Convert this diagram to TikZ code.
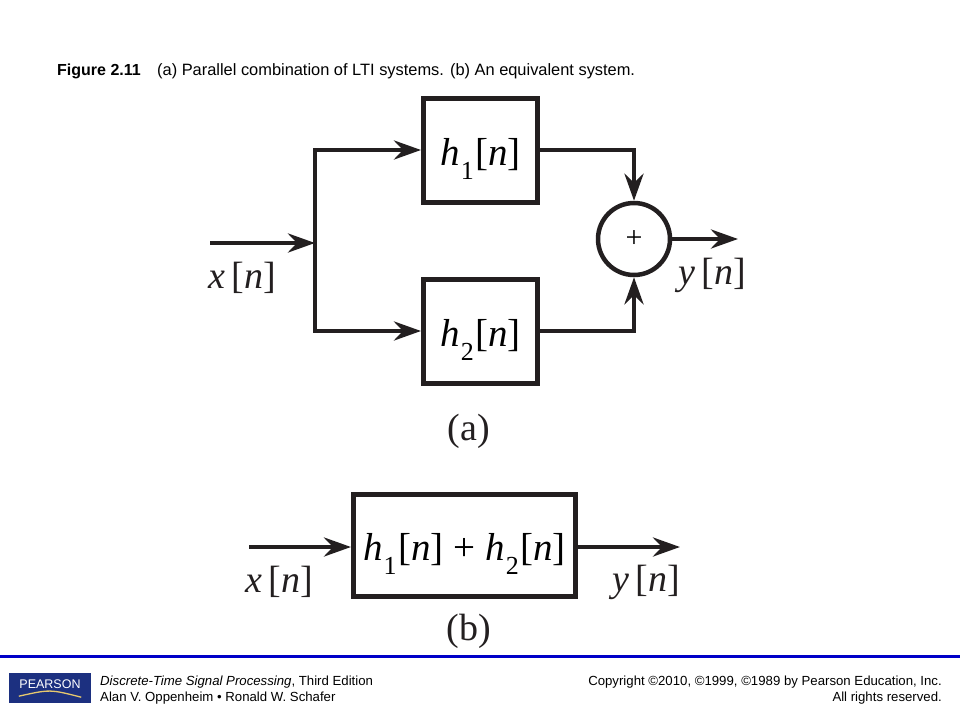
\documentclass[tikz,border=0pt]{standalone}
\usepackage{fontspec}
\setmainfont{Liberation Sans}
\newfontfamily\serifdia{Liberation Serif}
\usetikzlibrary{arrows.meta,positioning,calc}
\definecolor{ink}{RGB}{35,31,32}
\definecolor{pblue}{RGB}{0,0,200}
\definecolor{pnavy}{RGB}{28,48,128}
\definecolor{pgold}{RGB}{230,200,110}
\newcommand{\vi}[1]{\textit{#1}}
\newcommand{\hsub}[1]{\vi{h}\kern0.03em\raisebox{-0.36em}{\fontsize{26}{26}\selectfont #1}\kern0.04em}
\begin{document}
\begin{tikzpicture}[x=1pt,y=-1pt,
  conn/.style={draw=ink,line width=4.5pt},
  arr/.style={conn,-{Stealth[length=27pt,width=19pt,inset=9pt]}},
  blk/.style={draw=ink,line width=5pt,rectangle,inner sep=0pt,
    text height=30pt,text depth=0pt,
    font=\serifdia\fontsize{39}{40}\selectfont},
  lbl/.style={inner sep=0pt,font=\serifdia\fontsize{38}{40}\selectfont,text=ink},
  captext/.style={inner sep=0pt,font=\fontsize{16.4}{18}\selectfont},
  foot/.style={inner sep=0pt,font=\fontsize{13.2}{15}\selectfont}]
\useasboundingbox (0,0) rectangle (960,720);
\fill[white] (0,0) rectangle (960,720);

% header
\node[captext,anchor=base west,font=\fontsize{16}{18}\selectfont] (figno) at (57,75) {\textbf{Figure 2.11}};
\node[captext,anchor=base west] (title) at (157,75) {(a) Parallel combination of LTI systems. (b) An equivalent system.};

% ---- diagram (a)
\node[blk,minimum width=114pt,minimum height=104pt] (h1) at (480.5,150) {\hsub{1}[\vi{n}]};
\node[blk,minimum width=114pt,minimum height=104pt] (h2) at (480.5,331) {\hsub{2}[\vi{n}]};
\node[draw=ink,line width=4.5pt,circle,minimum size=72pt,inner sep=0pt,
  font=\serifdia\fontsize{30}{30}\selectfont] (sum) at (634,239) {+};
\coordinate (xin) at (210,243);
\coordinate (j) at (315,243);
\coordinate (yout) at (738,239);
\draw[arr] (xin) -- (j);
\draw[conn,line cap=rect] (j |- h1.west) -- (j |- h2.west);
\draw[arr] (j |- h1.west) -- (h1.west);
\draw[arr] (j |- h2.west) -- (h2.west);
\draw[arr] (h1.east) -| (sum.north);
\draw[arr] (h2.east) -| (sum.south);
\draw[arr] (sum.east) -- (yout);
\node[lbl] (xlab) at (242,278) {\vi{x}\,[\vi{n}]};
\node[lbl] (ylab) at (712,275) {\vi{y}\,[\vi{n}]};
\node[lbl] (alab) at (469,431) {(a)};

% ---- diagram (b)
\node[blk,minimum width=222pt,minimum height=102pt] (hb) at (464.5,545.5) {\hsub{1}[\vi{n}] + \hsub{2}[\vi{n}]};
\coordinate (xinb) at (249,547);
\coordinate (youtb) at (680,547);
\draw[arr] (xinb) -- (hb.west |- xinb);
\draw[arr] (hb.east |- youtb) -- (youtb);
\node[lbl] (xlabb) at (279,582) {\vi{x}\,[\vi{n}]};
\node[lbl] (ylabb) at (646,582) {\vi{y}\,[\vi{n}]};
\node[lbl] (blab) at (469,631) {(b)};

% ---- footer
\draw[pblue,line width=3pt] (0,656) -- (960,656);
\node[fill=pnavy,minimum width=82pt,minimum height=30pt,inner sep=0pt] (logo) at (50,688) {};
\node[inner sep=0pt,text=white,font=\fontsize{12.5}{13}\selectfont] (logotext) at (50,684.5) {PEARSON};
\draw[pgold,line width=1.3pt] ($(logo.south west)+(10,-7)$) .. controls ($(logo.south)+(0,-14)$) .. ($(logo.south east)+(-10,-6)$);
\node[foot,anchor=base west] (book) at (100,685) {\textit{Discrete-Time Signal Processing}, Third Edition};
\node[foot,anchor=base west] (auth) at (100,701) {Alan V. Oppenheim \textbullet{} Ronald W. Schafer};
\node[foot,anchor=base east] (copy) at (942,685) {Copyright \textcopyright2010, \textcopyright1999, \textcopyright1989 by Pearson Education, Inc.};
\node[foot,anchor=base east] (rights) at (942,701) {All rights reserved.};
\end{tikzpicture}
\end{document}
